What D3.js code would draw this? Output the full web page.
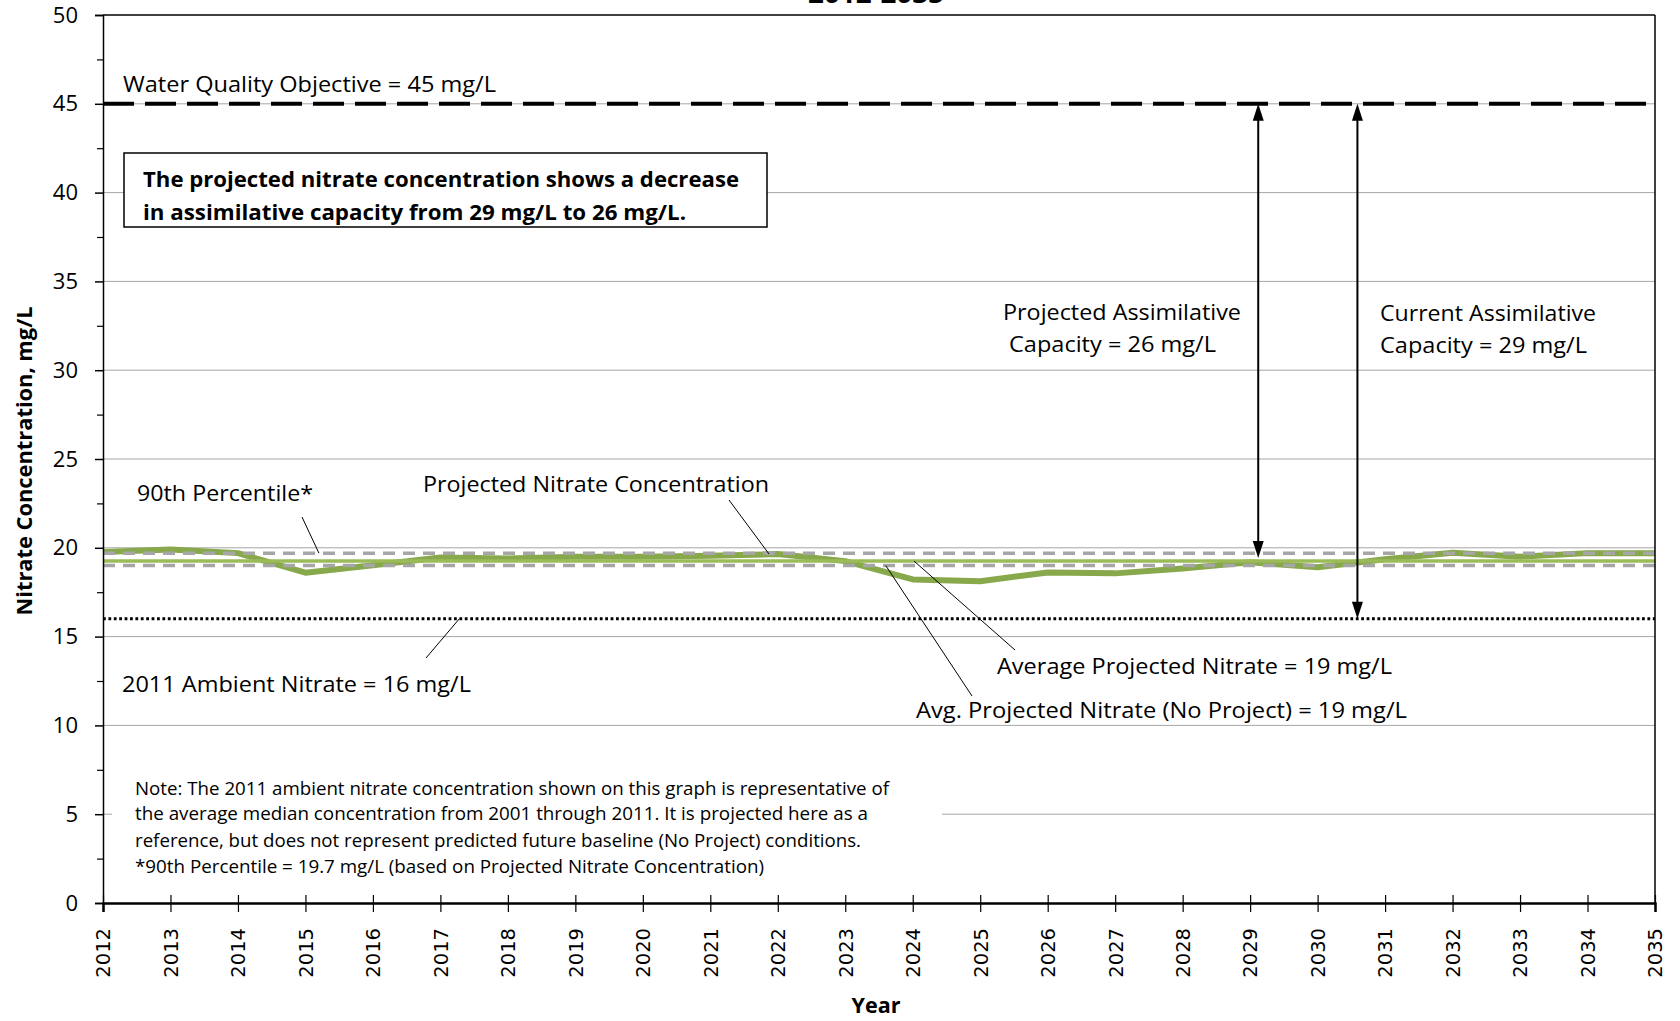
<!DOCTYPE html>
<html><head><meta charset="utf-8">
<script src="https://cdn.jsdelivr.net/npm/d3@7"></script>
<style>
body{margin:0;background:#fff;}
svg{display:block;}
text{font-family:'Open Sans',sans-serif;fill:#000;}
</style>
</head><body><svg id="c" width="1680" height="1021"></svg>
<script>
// ---- data ----
const years = [2012,2013,2014,2015,2016,2017,2018,2019,2020,2021,2022,2023,2024,2025,2026,2027,2028,2029,2030,2031,2032,2033,2034,2035];
const projectedNitrate = [19.77,19.9,19.7,18.6,19.02,19.45,19.4,19.5,19.5,19.55,19.65,19.25,18.22,18.12,18.61,18.56,18.84,19.18,18.9,19.35,19.72,19.5,19.7,19.7];
const yTickValues = [0,5,10,15,20,25,30,35,40,45,50];
const yMinorTicks = [2.5,7.5,12.5,17.5,22.5,27.5,32.5,37.5,42.5,47.5];
const waterQualityObjective = 45;
const ambient2011 = 16;
const percentile90 = 19.7;
const avgProjected = 19.25;
const avgNoProject = 19.0;
const projectedCapacityBottom = 19.43;
const currentCapacityBottom = 16;
const arrowYears = [2029.12, 2030.59];
const noteLines = [
  "Note: The 2011 ambient nitrate concentration shown on this graph is representative of",
  "the average median concentration from 2001 through 2011.  It is projected here as a",
  "reference, but does not represent predicted future baseline (No Project) conditions.",
  "*90th Percentile = 19.7 mg/L (based on Projected Nitrate Concentration)"
];

// ---- layout ----
const svg = d3.select("#c");
const L = 103, R = 1655, T = 15, B = 903;
const x = d3.scaleLinear().domain([2012,2035]).range([L,R]);
const y = d3.scaleLinear().domain([0,50]).range([B,T]);

// gridlines
svg.append("g").selectAll("line").data(yTickValues.filter(v=>v>0&&v<50)).join("line")
  .attr("x1",L).attr("x2",R).attr("y1",d=>y(d)).attr("y2",d=>y(d))
  .attr("stroke","#a6a6a6").attr("stroke-width",1);

// note background (covers gridline)
svg.append("rect").attr("x",112).attr("y",770).attr("width",830).attr("height",112).attr("fill","#fff");

// info box
svg.append("rect").attr("x",124).attr("y",153).attr("width",643).attr("height",74)
  .attr("fill","#fff").attr("stroke","#000").attr("stroke-width",1.5);

// line generator
const line = d3.line().x((d,i)=>x(years[i])).y(d=>y(d));

// projected nitrate (thick)
svg.append("path").datum(projectedNitrate).attr("d",line)
  .attr("fill","none").attr("stroke","#87a84b").attr("stroke-width",6).attr("stroke-linejoin","round");

// average projected nitrate (light green)
svg.append("line").attr("x1",x(2012)).attr("x2",x(2035)).attr("y1",y(avgProjected)).attr("y2",y(avgProjected))
  .attr("stroke","#9bbb59").attr("stroke-width",3.5);

// 90th percentile & no project average (gray dashed)
[percentile90, avgNoProject].forEach(v=>{
  svg.append("line").attr("x1",x(2012)).attr("x2",x(2035)).attr("y1",y(v)).attr("y2",y(v))
    .attr("stroke","#a6a6a6").attr("stroke-width",3.5).attr("stroke-dasharray","12,8");
});

// ambient (dotted)
svg.append("line").attr("x1",x(2012)).attr("x2",x(2035)).attr("y1",y(ambient2011)).attr("y2",y(ambient2011))
  .attr("stroke","#000").attr("stroke-width",3).attr("stroke-dasharray","2.8,2.6");

// WQO (long dash)
svg.append("line").attr("x1",x(2012)).attr("x2",x(2035)).attr("y1",y(waterQualityObjective)).attr("y2",y(waterQualityObjective))
  .attr("stroke","#000").attr("stroke-width",4).attr("stroke-dasharray","31,11");

// arrows
function dArrow(xv, v1, v2){
  const xp = x(xv), y1 = y(v1), y2 = y(v2), h = 17, w = 5.5;
  svg.append("line").attr("x1",xp).attr("x2",xp).attr("y1",y1+h-2).attr("y2",y2-h+2)
    .attr("stroke","#000").attr("stroke-width",2);
  svg.append("path").attr("d",`M${xp},${y1} L${xp-w},${y1+h} L${xp+w},${y1+h} Z`).attr("fill","#000");
  svg.append("path").attr("d",`M${xp},${y2} L${xp-w},${y2-h} L${xp+w},${y2-h} Z`).attr("fill","#000");
}
dArrow(arrowYears[0], waterQualityObjective, projectedCapacityBottom);
dArrow(arrowYears[1], waterQualityObjective, currentCapacityBottom);

// plot border (top & right)
svg.append("line").attr("x1",L).attr("x2",R).attr("y1",T).attr("y2",T).attr("stroke","#404040").attr("stroke-width",2);
svg.append("line").attr("x1",R).attr("x2",R).attr("y1",T).attr("y2",B).attr("stroke","#000").attr("stroke-width",1.5);

// y axis
const ya = svg.append("g").attr("transform",`translate(${L},0)`)
  .call(d3.axisLeft(y).tickValues(yTickValues).tickSize(8).tickPadding(17).tickFormat(d3.format("d")));
ya.select(".domain").attr("stroke","#000").attr("stroke-width",1.5);
ya.selectAll(".tick line").attr("stroke","#000").attr("stroke-width",1.5);
ya.selectAll("text").style("font-family","'Open Sans',sans-serif").style("font-size","22px").attr("fill","#000");
const ym = svg.append("g").attr("transform",`translate(${L},0)`)
  .call(d3.axisLeft(y).tickValues(yMinorTicks).tickSize(6).tickFormat(""));
ym.select(".domain").remove();
ym.selectAll(".tick line").attr("stroke","#000").attr("stroke-width",1.2);

// x axis
const xa = svg.append("g").attr("transform",`translate(0,${B})`)
  .call(d3.axisBottom(x).tickValues(years).tickSize(9).tickFormat(d3.format("d")));
xa.select(".domain").attr("stroke","#000").attr("stroke-width",2.5);
xa.selectAll(".tick line").attr("y1",-8).attr("stroke","#000").attr("stroke-width",1.2);
xa.selectAll("text").attr("transform","rotate(-90)").attr("x",-25).attr("y",0).attr("dy","0.35em")
  .style("text-anchor","end").style("font-family","'DejaVu Sans',sans-serif").style("font-size","19.5px").attr("fill","#000");

// text helper
function label(txt, xp, yc, w, size, bold, anchor){
  const t = svg.append("text").attr("x",xp).attr("y",yc).attr("dominant-baseline","central")
    .style("font-size",size+"px").style("font-weight",bold?"bold":"normal")
    .attr("text-anchor",anchor||"start").text(txt);
  if (w) t.attr("textLength",w).attr("lengthAdjust","spacingAndGlyphs");
  return t;
}

// title (cut off at top, as in the reference)
svg.append("text").attr("x",876).attr("y",3).attr("text-anchor","middle")
  .style("font-size","26px").style("font-weight","bold").attr("textLength",136).attr("lengthAdjust","spacingAndGlyphs").text("2012-2035");

// axis titles
svg.append("text").attr("transform","translate(24,461) rotate(-90)").attr("text-anchor","middle").attr("dominant-baseline","central")
  .style("font-size","21px").style("font-weight","bold").attr("textLength",309).attr("lengthAdjust","spacingAndGlyphs")
  .text("Nitrate Concentration, mg/L");
label("Year",876,1005,null,21,true,"middle").attr("textLength",49).attr("lengthAdjust","spacingAndGlyphs");

// annotations
label("Water Quality Objective = 45 mg/L",123,84,373,21);
label("The projected nitrate concentration shows a decrease",143,179,596,21,true);
label("in assimilative capacity from 29 mg/L to 26 mg/L.",143,212,543,21,true);
label("Projected Assimilative",1003,312,238,21);
label("Capacity = 26 mg/L",1009,344,207,21);
label("Current Assimilative",1380,313,216,21);
label("Capacity = 29 mg/L",1380,345,207,21);
label("90th Percentile*",137,493,176,21);
label("Projected Nitrate Concentration",423,484,346,21);
label("Average Projected Nitrate = 19 mg/L",997,666,395,21);
label("Avg. Projected Nitrate (No Project) = 19 mg/L",916,710,491,21);
label("2011 Ambient Nitrate = 16 mg/L",122,684,349,21);

const noteW = [754,733,726,629];
const noteY = [787.5,813,840,866];
noteLines.forEach((s,i)=>label(s,135,noteY[i],noteW[i],17.5));

// pointer lines
const pointers = [
  [302,517, 2015.2, percentile90],
  [729,500, 2021.87, projectedNitrate[10]],
  [1015,650, 2024.02, avgProjected],
  [972,696, 2023.6, avgNoProject],
  [426,658, 2017.28, ambient2011]
];
svg.append("g").selectAll("line").data(pointers).join("line")
  .attr("x1",d=>d[0]).attr("y1",d=>d[1]).attr("x2",d=>x(d[2])).attr("y2",d=>y(d[3]))
  .attr("stroke","#000").attr("stroke-width",1);
</script>
</body></html>
